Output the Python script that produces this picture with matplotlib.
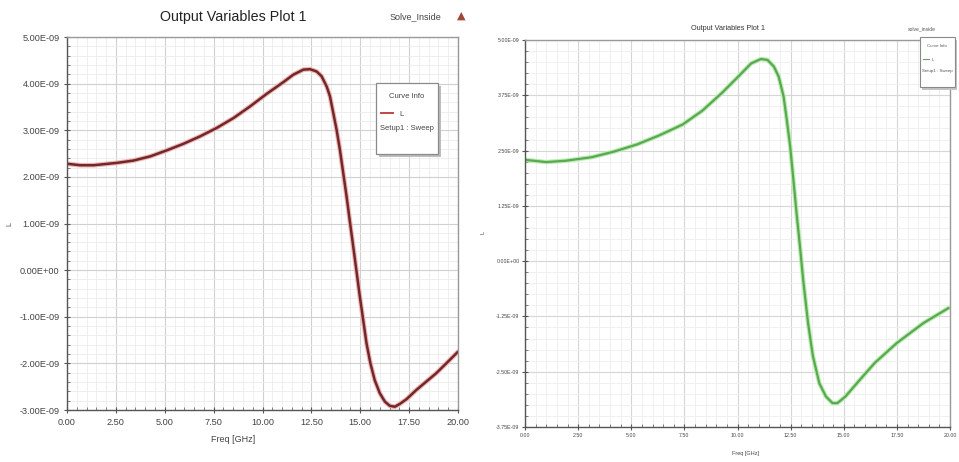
import matplotlib
matplotlib.use("Agg")
import matplotlib.pyplot as plt
from matplotlib.patches import Rectangle
from matplotlib.lines import Line2D
from matplotlib.ticker import MultipleLocator

plt.rcParams['font.family'] = ['Liberation Sans Narrow', 'Liberation Sans', 'DejaVu Sans']

# ---- data ----
title_text = "Output Variables Plot 1"
x_label = "Freq [GHz]"
y_label = "L"
legend_title = "Curve Info"
legend_curve = "L"
legend_setup = "Setup1 : Sweep"

freq_left = [0.03, 0.68, 1.36, 2.55, 3.40, 4.26, 5.11, 5.96, 6.81, 7.66, 8.51, 9.36, 10.21,
             11.06, 11.57, 12.09, 12.43, 12.77, 13.02, 13.28, 13.45, 13.62, 13.79, 13.96,
             14.13, 14.30, 14.47, 14.64, 14.81, 14.98, 15.15, 15.32, 15.52, 15.74, 16.0,
             16.26, 16.51, 16.77, 17.02, 17.36, 17.87, 18.38, 18.89, 19.40, 20.0]
L_left = [2.28e-9, 2.25e-9, 2.25e-9, 2.30e-9, 2.35e-9, 2.44e-9, 2.57e-9, 2.71e-9, 2.87e-9,
          3.05e-9, 3.26e-9, 3.51e-9, 3.78e-9, 4.03e-9, 4.19e-9, 4.30e-9, 4.31e-9, 4.26e-9,
          4.16e-9, 3.94e-9, 3.73e-9, 3.37e-9, 3.01e-9, 2.58e-9, 2.08e-9, 1.58e-9, 1.04e-9,
          0.51e-9, -0.03e-9, -0.57e-9, -1.07e-9, -1.57e-9, -2.00e-9, -2.36e-9, -2.64e-9,
          -2.82e-9, -2.91e-9, -2.93e-9, -2.87e-9, -2.77e-9, -2.57e-9, -2.39e-9, -2.21e-9,
          -2.00e-9, -1.75e-9]

freq_right = [0.0, 1.0, 1.91, 3.14, 4.21, 5.28, 6.35, 7.42, 8.34, 9.26, 10.03, 10.64, 11.10,
              11.41, 11.71, 11.94, 12.17, 12.32, 12.48, 12.63, 12.78, 12.94, 13.09, 13.32,
              13.55, 13.85, 14.16, 14.47, 14.70, 15.08, 15.69, 16.46, 17.50, 18.75, 19.93]
L_right = [2.29e-9, 2.24e-9, 2.27e-9, 2.35e-9, 2.48e-9, 2.64e-9, 2.85e-9, 3.09e-9, 3.40e-9,
           3.80e-9, 4.17e-9, 4.47e-9, 4.57e-9, 4.55e-9, 4.40e-9, 4.17e-9, 3.72e-9, 3.19e-9,
           2.59e-9, 1.84e-9, 1.08e-9, 0.33e-9, -0.42e-9, -1.40e-9, -2.15e-9, -2.76e-9,
           -3.06e-9, -3.21e-9, -3.21e-9, -3.06e-9, -2.72e-9, -2.30e-9, -1.85e-9, -1.40e-9,
           -1.06e-9]

left_yticks = [-3e-9, -2e-9, -1e-9, 0, 1e-9, 2e-9, 3e-9, 4e-9, 5e-9]
right_yticks = [-3.75e-9, -2.5e-9, -1.25e-9, 0, 1.25e-9, 2.5e-9, 3.75e-9, 5e-9]
xticks = [0, 2.5, 5, 7.5, 10, 12.5, 15, 17.5, 20]


def fmt_e(v):
    return "0.00E+00" if v == 0 else "%.2E" % v


W, H = 959, 462
fig = plt.figure(figsize=(W / 100, H / 100), dpi=100)


def fx(px):
    return px / W


def fy(py):
    return 1 - py / H


def style_axes(ax, yticks, ylim, ymin_step, lab_fs, grid_major, grid_minor):
    ax.set_xlim(0, 20)
    ax.set_ylim(*ylim)
    ax.set_xticks(xticks)
    ax.set_xticklabels(["%.2f" % t for t in xticks])
    ax.set_yticks(yticks)
    ax.set_yticklabels([fmt_e(t) for t in yticks])
    ax.xaxis.set_minor_locator(MultipleLocator(0.5))
    ax.yaxis.set_minor_locator(MultipleLocator(ymin_step))
    ax.grid(which='major', color=grid_major, linewidth=0.8)
    ax.grid(which='minor', color=grid_minor, linewidth=0.6)
    ax.set_axisbelow(True)
    ax.tick_params(which='major', direction='inout', length=5, width=0.8,
                   labelsize=lab_fs, colors='#555555', labelcolor='#444444')
    ax.tick_params(which='minor', direction='in', length=2.5, width=0.6, colors='#666666')
    for s in ['left', 'bottom']:
        ax.spines[s].set_color('#555555')
        ax.spines[s].set_linewidth(1.0)
    for s in ['top', 'right']:
        ax.spines[s].set_color('#9a9a9a')
        ax.spines[s].set_linewidth(1.0)


# ---------- Left panel ----------
axL = fig.add_axes([fx(67), fy(410), fx(458) - fx(67), fy(37) - fy(410)])
style_axes(axL, left_yticks, (-3e-9, 5e-9), 0.2e-9, 6.6, '#d0d0d0', '#ececec')
axL.plot(freq_left, L_left, color='#f2b4b4', linewidth=3.4, solid_capstyle='round',
         solid_joinstyle='round')
axL.plot(freq_left, L_left, color='#70292b', linewidth=1.8, solid_capstyle='round',
         solid_joinstyle='round')
axL.tick_params(axis='both', which='major', pad=3)

fig.text(fx(233), fy(17), title_text, ha='center', va='center', fontsize=10.3, color='#222222')
fig.text(fx(415), fy(17), "Solve_Inside", ha='center', va='center', fontsize=6.5, color='#444444')
fig.text(fx(461), fy(16), "\u25B2", ha='center', va='center', fontsize=8, color='#a04838',
         family='DejaVu Sans')
fig.text(fx(233), fy(440), x_label, ha='center', va='center', fontsize=6.5, color='#444444')
fig.text(fx(10), fy(224), y_label, ha='center', va='center', fontsize=5, color='#444444',
         rotation=90)

# legend box left
fig.patches.append(Rectangle((fx(379), fy(157)), fx(62), fy(83) - fy(154),
                             transform=fig.transFigure, facecolor='#bdbdbd',
                             edgecolor='none', zorder=5))
fig.patches.append(Rectangle((fx(376), fy(154)), fx(62), fy(83) - fy(154),
                             transform=fig.transFigure, facecolor='white',
                             edgecolor='#8a8a8a', linewidth=0.9, zorder=6))
fig.text(fx(407), fy(97), legend_title, ha='center', va='center', fontsize=5.5,
         color='#444444', zorder=7)
fig.lines.append(Line2D([fx(381), fx(393)], [fy(113), fy(113)], transform=fig.transFigure,
                        color='#c04848', linewidth=1.4, zorder=7))
fig.text(fx(399), fy(114), legend_curve, ha='left', va='center', fontsize=5.5,
         color='#444444', zorder=7)
fig.text(fx(380), fy(129), legend_setup, ha='left', va='center', fontsize=5.5,
         color='#444444', zorder=7)

# ---------- Right panel ----------
axR = fig.add_axes([fx(525), fy(427), fx(950) - fx(525), fy(40) - fy(427)])
style_axes(axR, right_yticks, (-3.75e-9, 5e-9), 0.25e-9, 3.8, '#d6d6d6', '#eeeeee')
axR.plot(freq_right, L_right, color='#b8ecb0', linewidth=3.2, solid_capstyle='round',
         solid_joinstyle='round')
axR.plot(freq_right, L_right, color='#5aa852', linewidth=1.6, solid_capstyle='round',
         solid_joinstyle='round')
axR.tick_params(which='major', length=4)
axR.tick_params(axis='both', which='major', pad=2)

fig.text(fx(728), fy(29), title_text, ha='center', va='center', fontsize=5.2, color='#333333')
fig.text(fx(922), fy(29), "solve_inside", ha='center', va='center', fontsize=3.6, color='#555555')
fig.text(fx(745), fy(453), x_label, ha='center', va='center', fontsize=4, color='#444444')
fig.text(fx(483), fy(232), y_label, ha='center', va='center', fontsize=4, color='#444444',
         rotation=90)

# legend box right
fig.patches.append(Rectangle((fx(922), fy(90)), fx(35), fy(37) - fy(87),
                             transform=fig.transFigure, facecolor='#c4c4c4',
                             edgecolor='none', zorder=5))
fig.patches.append(Rectangle((fx(920), fy(87)), fx(35), fy(37) - fy(87),
                             transform=fig.transFigure, facecolor='white',
                             edgecolor='#8a8a8a', linewidth=0.8, zorder=6))
fig.text(fx(937), fy(46), legend_title, ha='center', va='center', fontsize=3.2,
         color='#555555', zorder=7)
fig.lines.append(Line2D([fx(923), fx(929)], [fy(59), fy(59)], transform=fig.transFigure,
                        color='#6a9a6a', linewidth=0.8, zorder=7))
fig.text(fx(932), fy(60), legend_curve, ha='left', va='center', fontsize=3.2,
         color='#555555', zorder=7)
fig.text(fx(922), fy(71), legend_setup, ha='left', va='center', fontsize=3.2,
         color='#555555', zorder=7)

fig.savefig("out.png", dpi=100)
